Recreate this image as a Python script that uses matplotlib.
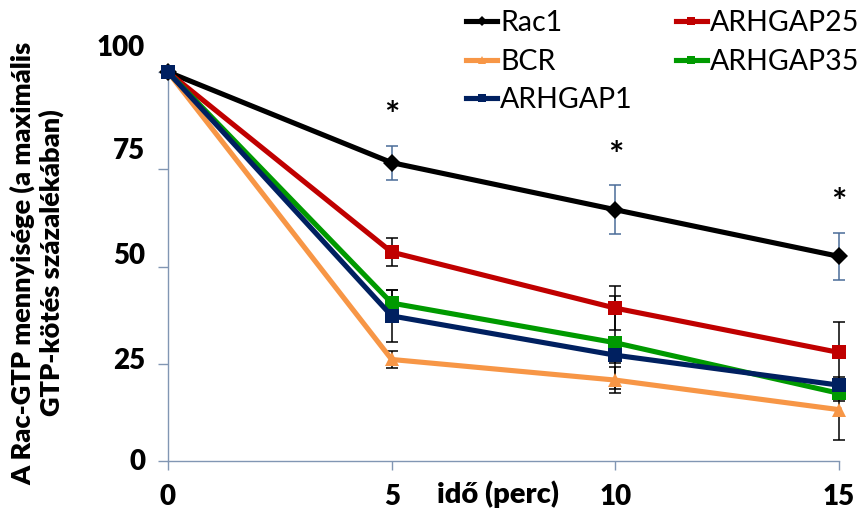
import matplotlib
matplotlib.use("Agg")
import matplotlib.pyplot as plt
from matplotlib.transforms import ScaledTranslation, blended_transform_factory

plt.rcParams['font.family'] = ['Lato', 'DejaVu Sans']

# Time points (minutes) and measured Rac-GTP levels (% of maximal GTP binding)
time_min = [0, 5, 10, 15]
rac1 = [100, 76.7, 64.6, 52.6]
rac1_err = [0, 4.4, 6.3, 6.0]
arhgap25 = [100, 53.7, 39.3, 27.9]
arhgap25_err = [0, 3.5, 5.7, 7.8]
bcr = [100, 26.1, 20.8, 13.2]
bcr_err = [0, 2.2, 3.4, 7.7]
arhgap35 = [100, 40.6, 30.4, 17.4]
arhgap35_err = [0, 3.3, 12.0, 2.0]
arhgap1 = [100, 37.3, 27.2, 19.5]
arhgap1_err = [0, 6.6, 2.0, 2.0]
signif_times = [5, 10, 15]
x_ticks = [0, 5, 10, 15]
y_ticks = [0, 25, 50, 75, 100]

AXIS_COLOR = '#8196b3'
BOLD = 'heavy'

fig = plt.figure(figsize=(8.61, 5.15), dpi=100)
ax = fig.add_axes([168 / 861, 1 - 461 / 515, (839 - 168) / 861, (461 - 72) / 515])

series = [
    ("Rac1", rac1, rac1_err, '#000000', 'D', 9, '#4a6c98'),
    ("ARHGAP25", arhgap25, arhgap25_err, '#c00000', 's', 10, '#000000'),
    ("BCR", bcr, bcr_err, '#f79646', '^', 10, '#000000'),
    ("ARHGAP35", arhgap35, arhgap35_err, '#009a00', 's', 10, '#000000'),
    ("ARHGAP1", arhgap1, arhgap1_err, '#002060', 's', 10, '#000000'),
]

handles = {}
for i, (name, vals, err, color, marker, ms, ecol) in enumerate(series):
    ax.errorbar(time_min, vals, yerr=err, fmt='none', ecolor=ecol,
                elinewidth=1.1, capsize=4, capthick=1.1, zorder=2, clip_on=False)
    line, = ax.plot(time_min, vals, color=color, lw=3.7, marker=marker,
                    markersize=ms, markeredgewidth=0, zorder=3 + i,
                    clip_on=False, label=name)
    handles[name] = line

# significance marks above the Rac1 error bars
for t in signif_times:
    k = time_min.index(t)
    ax.text(t, rac1[k] + rac1_err[k] + 7.5, '*', ha='center', va='center',
            fontsize=26, fontweight='bold', color='#000000')

ax.set_xlim(0, 15)
ax.set_ylim(0, 100)
for side in ('top', 'right'):
    ax.spines[side].set_visible(False)
for side in ('left', 'bottom'):
    ax.spines[side].set_color(AXIS_COLOR)
    ax.spines[side].set_linewidth(1.0)

ax.set_xticks(x_ticks)
ax.set_xticklabels([str(v) for v in x_ticks], fontsize=20, fontweight=BOLD)
ax.set_yticks(y_ticks)
ax.set_yticklabels([str(v) for v in y_ticks], fontsize=20, fontweight=BOLD)
ax.tick_params(axis='y', length=7, width=1.0, color=AXIS_COLOR, pad=9.5)
ax.tick_params(axis='x', length=6.5, width=1.0, color=AXIS_COLOR, pad=10)

# value labels sit slightly above their ticks, increasingly so toward the top
label_shift_pt = [1.2, 3.9, 9.1, 15.1, 19.1]
for lab, dy in zip(ax.get_yticklabels(), label_shift_pt):
    lab.set_transform(lab.get_transform() + ScaledTranslation(0, dy / 72, fig.dpi_scale_trans))

trans = blended_transform_factory(ax.transData, ax.transAxes)
ax.text(7.38, -0.085, 'idő (perc)', transform=trans, ha='center', va='center',
        fontsize=21, fontweight=BOLD)

fig.text(37 / 861, 1 - 263 / 515,
         'A Rac-GTP mennyisége (a maximális\nGTP-kötés százalékában)',
         rotation=90, ha='center', va='center', fontsize=19.5, fontweight=BOLD,
         linespacing=1.15, multialignment='center')

order = ["Rac1", "BCR", "ARHGAP1", "ARHGAP25", "ARHGAP35"]
fig.legend([handles[n] for n in order], order, ncol=2, frameon=False,
           loc='upper left', bbox_to_anchor=(466 / 861, 1 - 10 / 515),
           fontsize=20.5, handlelength=1.1, handletextpad=0.1,
           columnspacing=1.5, labelspacing=0.44, markerscale=0.6,
           borderpad=0, borderaxespad=0)

fig.savefig('out.png', dpi=100)
